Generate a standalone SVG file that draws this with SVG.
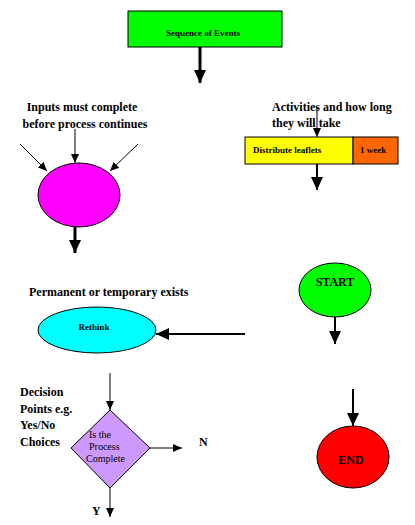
<svg xmlns="http://www.w3.org/2000/svg" width="415" height="525" viewBox="0 0 415 525">
<style>
.s{stroke:#000;stroke-width:1}
.t{font-family:"Liberation Serif","Times New Roman",serif;font-weight:bold;fill:#000}
.m{font-size:12px}
.sm{font-size:9px}
.tn{font-family:"Liberation Serif","Times New Roman",serif;fill:#000;font-size:10px}
.ln{stroke:#000;fill:none}
</style>
<defs>
<marker id="ah" markerUnits="userSpaceOnUse" markerWidth="10" markerHeight="10" refX="9" refY="5" orient="auto"><path d="M0,1 L9,5 L0,9 Z" fill="#000"/></marker>
<marker id="ahb" markerUnits="userSpaceOnUse" markerWidth="14" markerHeight="14" refX="13" refY="6" orient="auto"><path d="M0,0 L13,6 L0,12 Z" fill="#000"/></marker>
</defs>
<rect width="415" height="525" fill="#fff"/>
<g id="connectors">
<line class="ln" x1="200" y1="47" x2="200" y2="83" stroke-width="3" marker-end="url(#ahb)"/>
<line class="ln" x1="75" y1="129" x2="75" y2="163" stroke-width="1" marker-end="url(#ah)"/>
<line class="ln" x1="20" y1="144" x2="47" y2="171" stroke-width="1" marker-end="url(#ah)"/>
<line class="ln" x1="138" y1="144" x2="110" y2="171" stroke-width="1" marker-end="url(#ah)"/>
<line class="ln" x1="75" y1="227" x2="75" y2="253" stroke-width="3" marker-end="url(#ahb)"/>
<line class="ln" x1="317" y1="107" x2="317" y2="137" stroke-width="1" marker-end="url(#ah)"/>
<line class="ln" x1="317" y1="164" x2="317" y2="190" stroke-width="2" marker-end="url(#ahb)"/>
<line class="ln" x1="245" y1="334" x2="156" y2="334" stroke-width="2" marker-end="url(#ahb)"/>
<line class="ln" x1="335" y1="317" x2="335" y2="344" stroke-width="2" marker-end="url(#ahb)"/>
<line class="ln" x1="110" y1="373" x2="110" y2="410" stroke-width="1" marker-end="url(#ah)"/>
<line class="ln" x1="150" y1="448" x2="182" y2="448" stroke-width="1" marker-end="url(#ah)"/>
<line class="ln" x1="110" y1="488" x2="110" y2="517" stroke-width="1" marker-end="url(#ah)"/>
<line class="ln" x1="353" y1="389" x2="353" y2="426" stroke-width="2" marker-end="url(#ahb)"/>
</g>
<g id="sequence">
<rect class="s" x="128" y="11" width="154" height="36" fill="#00ff00"/>
<text class="t sm" x="203" y="36" text-anchor="middle">Sequence of Events</text>
</g>
<g id="inputs-label">
<text class="t m" x="82" y="111" text-anchor="middle">Inputs must complete</text>
<text class="t m" x="85" y="128" text-anchor="middle">before process continues</text>
</g>
<g id="process">
<ellipse class="s" cx="79" cy="195" rx="41" ry="32" fill="#ff00ff"/>
</g>
<g id="activities-label">
<text class="t m" x="272" y="111">Activities and how long</text>
<text class="t m" x="272" y="127">they will take</text>
</g>
<g id="activity">
<rect class="s" x="245" y="137" width="108" height="27" fill="#ffff00"/>
<rect class="s" x="353" y="137" width="45" height="27" fill="#ff6600"/>
<text class="t sm" x="253" y="153">Distribute leaflets</text>
<text class="t sm" x="360" y="153">1 week</text>
</g>
<g id="permanent-label">
<text class="t m" x="29" y="296">Permanent or temporary exists</text>
</g>
<g id="rethink">
<ellipse class="s" cx="97" cy="330" rx="59" ry="23" fill="#00ffff"/>
<text class="t sm" x="94" y="330" text-anchor="middle">Rethink</text>
</g>
<g id="start">
<ellipse class="s" cx="335" cy="290" rx="36" ry="27" fill="#00ff00"/>
<text class="t m" x="335" y="286" text-anchor="middle">START</text>
</g>
<g id="decision-label">
<text class="t m" x="20" y="396">Decision</text>
<text class="t m" x="20" y="413">Points e.g.</text>
<text class="t m" x="20" y="429">Yes/No</text>
<text class="t m" x="20" y="446">Choices</text>
</g>
<g id="decision">
<polygon class="s" points="110,410 150,448 110,488 71,448" fill="#cc99ff"/>
<text class="tn" x="89" y="438">Is the</text>
<text class="tn" x="89" y="450">Process</text>
<text class="tn" x="86" y="462">Complete</text>
</g>
<g id="labels-yn">
<text class="t m" x="199" y="446">N</text>
<text class="t m" x="92" y="515">Y</text>
</g>
<g id="end">
<ellipse class="s" cx="353" cy="457" rx="36" ry="31" fill="#ff0000"/>
<text class="t m" x="351" y="464" text-anchor="middle">END</text>
</g>
</svg>
